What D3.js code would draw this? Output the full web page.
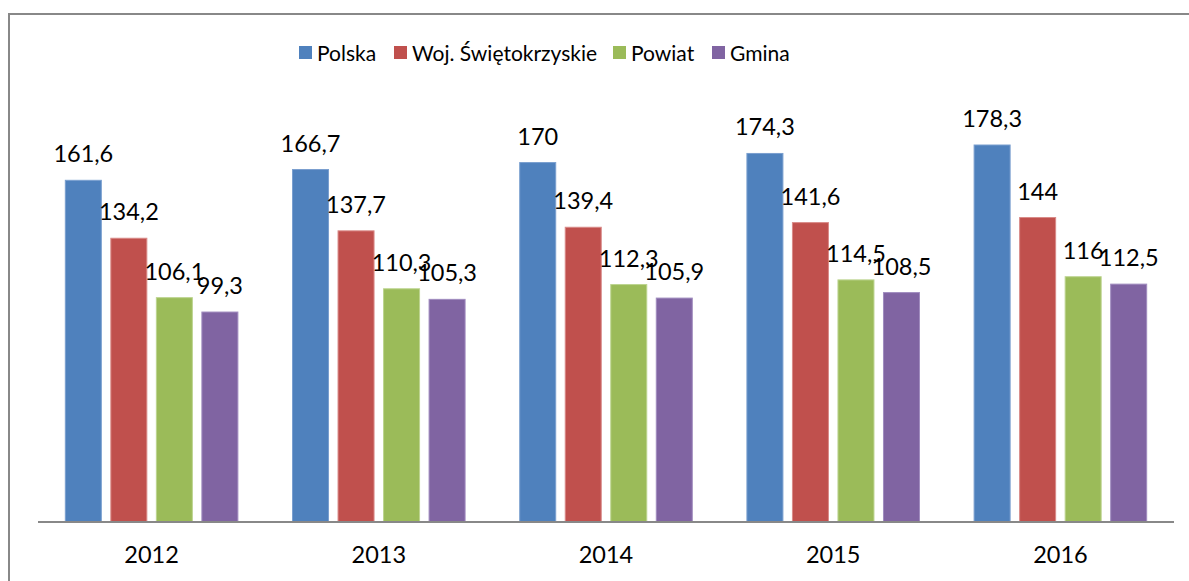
<!DOCTYPE html>
<html><head><meta charset="utf-8">
<script src="https://cdn.jsdelivr.net/npm/d3@7"></script>
<style>html,body{margin:0;padding:0;background:#fff;}svg{display:block;}</style>
</head><body>
<svg id="chart" width="1189" height="581"></svg>
<script>
const categories = ["2012", "2013", "2014", "2015", "2016"];
const seriesNames = ["Polska", "Woj. Świętokrzyskie", "Powiat", "Gmina"];
const polska = [161.6, 166.7, 170, 174.3, 178.3];
const woj = [134.2, 137.7, 139.4, 141.6, 144];
const powiat = [106.1, 110.3, 112.3, 114.5, 116];
const gmina = [99.3, 105.3, 105.9, 108.5, 112.5];
const colors = ["#4F81BD", "#C0504D", "#9BBB59", "#8064A2"];
const strokes = ["#7a9fcf", "#d98a88", "#bcd48f", "#a08cbf"];

const seriesValues = [polska, woj, powiat, gmina];
const fmt = v => String(v).replace(".", ",");
const font = "Lato, 'Open Sans', sans-serif";

const svg = d3.select("#chart");
// outer frame
svg.append("path").attr("d", "M9,581 V14 H1189").attr("fill", "none")
  .attr("stroke", "#888").attr("stroke-width", 2);

const x0 = d3.scaleBand().domain(categories).range([38, 1174]).paddingInner(0).paddingOuter(0);
const x1 = d3.scaleBand().domain(d3.range(4)).range([0, x0.bandwidth()]).paddingInner(0.209).paddingOuter(0.6);
const y = d3.scaleLinear().domain([0, 178.3]).range([522, 145]);

const data = [];
categories.forEach((c, i) => seriesValues.forEach((s, j) => data.push({c, j, v: s[i]})));

svg.append("g").selectAll("rect").data(data).join("rect")
  .attr("x", d => x0(d.c) + x1(d.j))
  .attr("y", d => y(d.v))
  .attr("width", x1.bandwidth())
  .attr("height", d => y(0) - y(d.v))
  .attr("fill", d => colors[d.j])
  .attr("stroke", d => strokes[d.j]).attr("stroke-width", 1);

svg.append("g").selectAll("text").data(data).join("text")
  .attr("x", d => x0(d.c) + x1(d.j) + x1.bandwidth() / 2)
  .attr("y", d => y(d.v) - 18)
  .attr("text-anchor", "middle")
  .attr("font-family", font).attr("font-size", 23.5).attr("fill", "#000")
  .text(d => fmt(d.v));

// x axis
const xAxis = svg.append("g").attr("transform", "translate(0,522)")
  .call(d3.axisBottom(x0).tickSize(0).tickPadding(24));
xAxis.select(".domain").attr("stroke", "#888").attr("stroke-width", 2).attr("d", "M38,0H1174");
xAxis.selectAll("text").attr("font-family", font).attr("font-size", 23.5).attr("fill", "#000");

// legend
const legendX = [299, 394, 613, 712];
const lg = svg.append("g").selectAll("g").data(seriesNames).join("g")
  .attr("transform", (d, i) => `translate(${legendX[i]},46)`);
lg.append("rect").attr("width", 13).attr("height", 13).attr("fill", (d, i) => colors[i]);
lg.append("text").attr("x", 18).attr("y", 14.5)
  .attr("font-family", font).attr("font-size", 21).attr("fill", "#000").text(d => d);
</script>
</body></html>
